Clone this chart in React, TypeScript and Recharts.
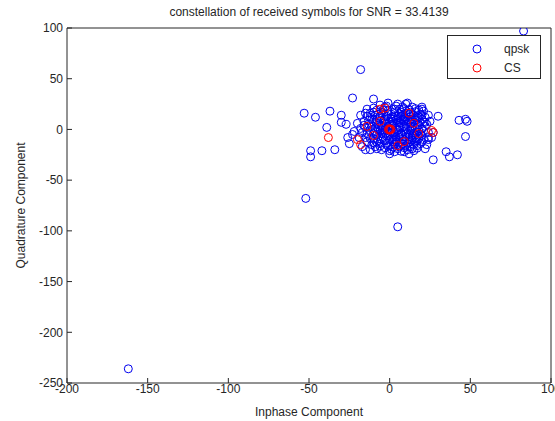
import { ScatterChart, Scatter, XAxis, YAxis, Legend } from 'recharts';

const TITLE = 'constellation of received symbols for SNR = 33.4139';
const X_TICKS = [-200, -150, -100, -50, 0, 50, 100];
const Y_TICKS = [-250, -200, -150, -100, -50, 0, 50, 100];

// symbols that landed far away from the main cloud
const qpskOutliers: [number, number][] = [
  [83, 97], [-162, -236], [-18, 59], [-52, -68], [5, -96],
  [-53, 16], [-46, 12], [-37, 18], [-23, 31], [-10, 30], [-30, 14], [-39, 2],
  [-30, 7], [-27, 5], [-26, -8], [-23, -5], [-25, -14], [-15, -20], [-49, -21],
  [-49, -27], [-42, -21], [-34, -20], [5, 25], [11, 26], [30, 13], [27, -3],
  [27, -30], [35, -22], [37, -27], [42, -25], [43, 9], [47, 10], [48, 8],
  [47, -7], [24, -10], [22, 7], [20, 20], [-22, -2],
];

// dense cloud around the origin
const qpskCluster: [number, number][] = [
  [-3, 22], [4, 23], [9, 20.5], [14, 22], [18, 19],
  [-8, 19], [-1, 18.5], [3, 20], [7, 17], [12, 19.5], [16, 17.5], [21, 18],
  [-12, 16], [-5, 16.5], [1, 15], [6, 15.5], [10, 16], [15, 14], [19, 15],
  [-14, 13], [-9, 14], [-2, 13], [2, 12], [5, 13.5], [9, 12], [13, 13], [17, 11.5], [22, 12],
  [-11, 10], [-6, 11], [-1, 10.5], [4, 9], [8, 10], [11, 9.5], [16, 9], [20, 10],
  [-16, 8], [-10, 7], [-4, 8], [0, 7.5], [3, 6], [7, 7], [12, 8], [15, 6.5], [19, 7],
  [-13, 5], [-7, 4.5], [-2, 5], [2, 3.5], [6, 4], [10, 5], [14, 3], [18, 4.5], [23, 5],
  [-15, 2], [-9, 1.5], [-5, 2], [-1, 0.5], [4, 1], [8, 2], [11, 0], [16, 1.5], [20, 0.5],
  [-12, -1], [-6, -1.5], [-3, -2], [1, -2.5], [5, -1], [9, -2], [13, -1], [17, -2.5], [21, -1.5],
  [-17, -3], [-10, -4], [-4, -4.5], [0, -4], [3, -5], [7, -4], [12, -5], [15, -3.5], [19, -4.5], [24, -3],
  [-13, -6], [-7, -7], [-2, -6.5], [2, -7], [6, -6], [10, -7.5], [14, -6], [18, -7],
  [-10, -9], [-5, -10], [1, -9], [4, -10], [8, -9.5], [12, -10], [16, -9], [21, -10],
  [-14, -12], [-8, -12.5], [-3, -11], [2, -12], [6, -13], [9, -11.5], [13, -12], [17, -11],
  [-11, -15], [-6, -14], [0, -15], [3, -14.5], [7, -16], [11, -14], [15, -15], [19, -14],
  [-9, -17], [-3, -18], [2, -17.5], [5, -19], [9, -18], [13, -17], [17, -18.5],
  [-5, -20], [0, -21], [7, -21.5], [11, -20], [15, -21],
  [-18, 14], [-20, 6], [-19, -8], [-17, -17], [24, 14], [25, 8], [26, -8], [23, -15],
  [-6, 24], [10, 25], [20, 22], [-1, 26], [-14, 20], [0, -24], [12, -24], [-12, -20], [22, -19],
  // second pass over the core, where the circles overlap into a solid patch
  [-7, 15], [-3, 10], [1, 11], [5, 9.5], [10, 11], [14, 10.5], [18, 12.5],
  [-8, 6], [-5, 4], [-1, 3], [2, 8], [6, 6.5], [9, 3.5], [13, 5.5], [17, 2],
  [-9, -2], [-5, -3.5], [-1, -6], [3, -3], [6, -8], [10, -4.5], [14, -8.5], [18, -9],
  [-7, -11], [-2, -13.5], [4, -12.5], [8, -14.5], [12, -13], [16, -12.5],
  [-12, 12], [-16, 4], [-15, -8], [-10, -13], [-4, 19], [8, 22], [13, 17], [20, -6],
  [22, 3], [3, -22], [-8, -19], [17, -16], [-18, 1], [24, -8], [7, 12.5], [-4, 1.5],
  // third pass, filling the gaps left between the first two
  [-10, 17], [-6, 13], [-1, 15.5], [3, 17], [8, 14], [12, 14.5], [16, 12], [20, 14],
  [-13, 9], [-8, 9.5], [-3, 6.5], [1, 5], [5, 11.5], [9, 8], [13, 9.5], [21, 7.5],
  [-11, 3], [-7, 0], [-3, -0.5], [2, 1.5], [6, 2], [10, 1], [14, 0.5], [18, -1],
  [-14, -4], [-8, -5], [-4, -8], [0, -10.5], [4, -7.5], [8, -6], [12, -7.5], [16, -5.5],
  [-12, -9], [-6, -16.5], [-1, -16.5], [3, -10], [6, -17], [10, -16], [14, -10.5], [20, -12],
  [-2, 23], [6, 20], [16, 20.5], [-10, 21], [1, -19.5], [9, -22], [14, -19], [-15, 16],
];

const csPoints: [number, number][] = [
  [0, 0], [0.8, 0], [-0.8, 0], [0, 0.8], [0, -0.8],
  [-3, 21], [-6, 20], [12, 16], [9, -12], [15, 6], [-10, -6], [-6, 8], [5, -16],
  [18, -4], [-14, 3], [26, -1], [27, -3], [-38, -8], [-18, -15], [-20, -10],
];

const toRows = (pts: [number, number][]) => pts.map(([x, y]) => ({ x, y }));
const qpskData = toRows([...qpskOutliers, ...qpskCluster]);
const csData = toRows(csPoints);

const BLUE = '#0000ee';
const RED = '#ff0000';
const INK = '#262626';
const FONT = '"Liberation Sans", Arial, sans-serif';

const ring = (color: string) => (props: any) => (
  <circle cx={props.cx} cy={props.cy} r={4} fill="none" stroke={color} strokeWidth={1} />
);

const LegendBox = () => (
  <div
    style={{
      border: `1px solid ${INK}`,
      background: '#fff',
      width: 94,
      height: 44,
      boxSizing: 'border-box',
      fontFamily: FONT,
      fontSize: 12,
      color: INK,
      paddingTop: 3,
    }}
  >
    {[
      { name: 'qpsk', color: BLUE },
      { name: 'CS', color: RED },
    ].map((s) => (
      <div key={s.name} style={{ display: 'flex', alignItems: 'center', height: 19 }}>
        <svg width={56} height={12}>
          <circle cx={29} cy={6} r={4} fill="none" stroke={s.color} strokeWidth={1} />
        </svg>
        <span>{s.name}</span>
      </div>
    ))}
  </div>
);

export default function App() {
  return (
    <div style={{ position: 'absolute', left: 0, top: 0, width: 555, height: 421, background: '#fff' }}>
      <ScatterChart
        width={555}
        height={421}
        margin={{ top: 0, right: 0, bottom: 0, left: 0 }}
        style={{ fontFamily: FONT }}
      >
        <XAxis
          type="number"
          dataKey="x"
          domain={[-200, 100]}
          ticks={X_TICKS}
          interval={0}
          allowDataOverflow
          height={38}
          tickSize={-5}
          tickMargin={6}
          stroke={INK}
          tick={{ fill: INK, fontSize: 12 }}
          label={{
            content: ({ viewBox }: any) => (
              <text
                x={viewBox.x + viewBox.width / 2}
                y={viewBox.y + 29}
                textAnchor="middle"
                dominantBaseline="central"
                fill={INK}
                fontSize={12}
              >
                Inphase Component
              </text>
            ),
          }}
        />
        <XAxis
          xAxisId="top"
          orientation="top"
          type="number"
          domain={[-200, 100]}
          ticks={X_TICKS}
          interval={0}
          allowDataOverflow
          height={28}
          tickSize={-5}
          tick={false}
          stroke={INK}
          label={{
            content: ({ viewBox }: any) => (
              <text
                x={viewBox.x + viewBox.width / 2}
                y={viewBox.y + viewBox.height - 16}
                textAnchor="middle"
                dominantBaseline="central"
                fill={INK}
                fontSize={12}
              >
                {TITLE}
              </text>
            ),
          }}
        />
        <YAxis
          type="number"
          dataKey="y"
          domain={[-250, 100]}
          ticks={Y_TICKS}
          interval={0}
          allowDataOverflow
          width={67}
          tickSize={-5}
          tickMargin={9}
          stroke={INK}
          tick={{ fill: INK, fontSize: 12 }}
          label={{
            content: ({ viewBox }: any) => {
              const cx = viewBox.x + 21;
              const cy = viewBox.y + viewBox.height / 2;
              return (
                <text
                  x={cx}
                  y={cy}
                  transform={`rotate(-90 ${cx} ${cy})`}
                  textAnchor="middle"
                  dominantBaseline="central"
                  fill={INK}
                  fontSize={12}
                >
                  Quadrature Component
                </text>
              );
            },
          }}
        />
        <YAxis
          yAxisId="right"
          orientation="right"
          type="number"
          domain={[-250, 100]}
          ticks={Y_TICKS}
          interval={0}
          allowDataOverflow
          width={4}
          tickSize={-5}
          tick={false}
          stroke={INK}
        />
        <Scatter name="qpsk" data={qpskData} shape={ring(BLUE)} isAnimationActive={false} />
        <Scatter name="CS" data={csData} shape={ring(RED)} isAnimationActive={false} />
        <Legend
          layout="vertical"
          align="center"
          verticalAlign="middle"
          content={LegendBox}
          wrapperStyle={{ top: 35, left: 447, width: 94, height: 44 }}
        />
      </ScatterChart>
    </div>
  );
}
